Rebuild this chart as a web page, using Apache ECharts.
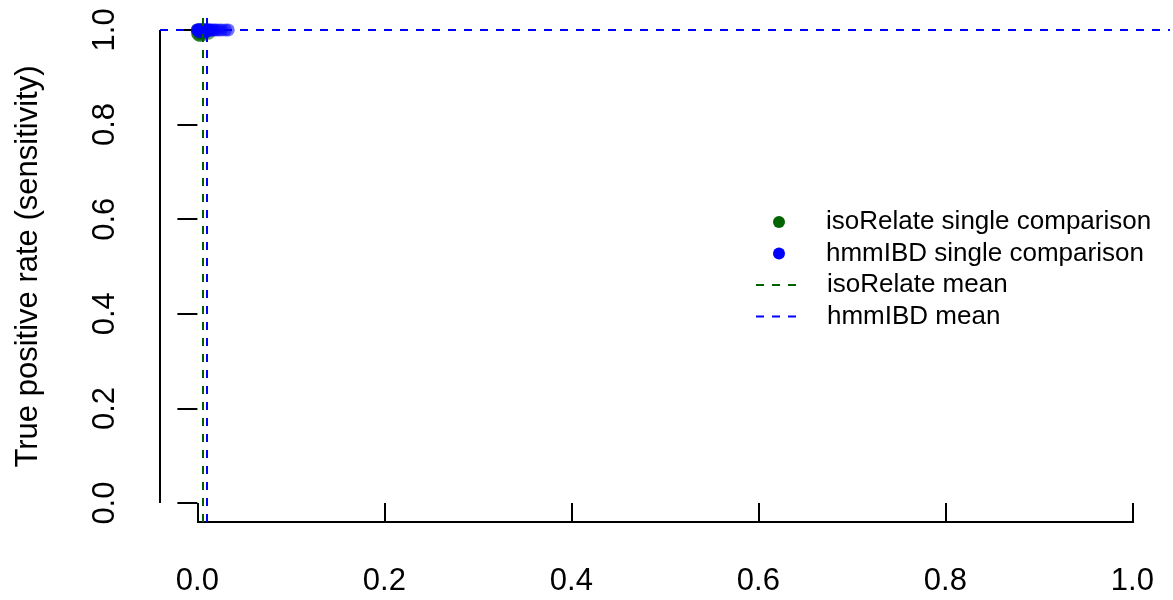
<!DOCTYPE html>
<html>
<head>
<meta charset="utf-8">
<script src="https://cdn.jsdelivr.net/npm/echarts@6/dist/echarts.min.js"></script>
<style>
html,body{margin:0;padding:0;background:#fff;}
#chart{width:1173px;height:600px;}
</style>
</head>
<body>
<div id="chart"></div>
<script>
// ---- data ----
var xTicks = [0, 0.2, 0.4, 0.6, 0.8, 1.0];
var yTicks = [0, 0.2, 0.4, 0.6, 0.8, 1.0];
var seriesNames = ['isoRelate single comparison', 'hmmIBD single comparison', 'isoRelate mean', 'hmmIBD mean'];
// isoRelate single comparisons: [false positive rate, true positive rate]
var isoPoints = [
  [0.000, 0.993], [0.000, 1.000], [0.001, 0.990], [0.002, 0.996], [0.002, 1.000],
  [0.003, 0.988], [0.004, 1.000], [0.004, 0.998], [0.005, 0.994], [0.006, 0.990],
  [0.007, 1.000], [0.008, 0.996], [0.010, 1.000], [0.012, 0.993]
];
// hmmIBD single comparisons
var hmmPoints = [
  [0.000, 1.000], [0.000, 1.000], [0.001, 1.000], [0.002, 1.000], [0.002, 0.996],
  [0.002, 1.000], [0.003, 1.000], [0.004, 1.000], [0.004, 1.000], [0.005, 1.000],
  [0.005, 0.996], [0.006, 1.000], [0.006, 1.000], [0.007, 1.000], [0.008, 1.000],
  [0.009, 1.000], [0.009, 0.996], [0.010, 1.000], [0.011, 1.000], [0.012, 1.000],
  [0.013, 1.000], [0.014, 1.000], [0.016, 1.000], [0.018, 1.000], [0.020, 1.000],
  [0.023, 1.000], [0.026, 1.000], [0.030, 1.000], [0.033, 1.000]
];
var isoMean = { fpr: 0.0053, tpr: 1.000 };
var hmmMean = { fpr: 0.0096, tpr: 1.000 };

// ---- styling ----
var FONT = 'Liberation Sans, Arial, Helvetica, sans-serif';
var GREEN = '#006400';
var BLUE = '#0000FF';
var AX_MIN = -0.04, AX_MAX = 1.04;

var chart = echarts.init(document.getElementById('chart'), null, { renderer: 'canvas' });

function meanSeries(name, color, m) {
  return {
    name: name, type: 'line', data: [], symbol: 'none', silent: true,
    lineStyle: { color: color, width: 2, type: [8, 8] },
    itemStyle: { color: color },
    markLine: {
      silent: true, symbol: ['none', 'none'], animation: false, precision: 6,
      label: { show: false },
      lineStyle: { color: color, width: 2, type: [8, 8] },
      emphasis: { disabled: true },
      data: [{ xAxis: m.fpr }, { yAxis: m.tpr }]
    }
  };
}

var option = {
  animation: false,
  backgroundColor: '#ffffff',
  grid: { left: 160, right: 3.2, top: 11, bottom: 78, containLabel: false },
  xAxis: {
    type: 'value', min: AX_MIN, max: AX_MAX,
    axisLine: { show: false },
    splitLine: { show: false },
    axisTick: { show: true, customValues: xTicks, length: 20, lineStyle: { color: '#000', width: 2 } },
    axisLabel: { show: true, customValues: xTicks, margin: 44, fontSize: 31, color: '#000', fontFamily: FONT,
      formatter: function (v) { return v.toFixed(1); } }
  },
  yAxis: {
    type: 'value', min: AX_MIN, max: AX_MAX,
    name: 'True positive rate (sensitivity)', nameLocation: 'middle', nameGap: 116,
    nameTextStyle: { fontSize: 31, color: '#000', fontFamily: FONT },
    axisLine: { show: false },
    splitLine: { show: false },
    axisTick: { show: true, customValues: yTicks, length: 20, lineStyle: { color: '#000', width: 2 } },
    axisLabel: { show: true, customValues: yTicks, margin: 39, rotate: 90, fontSize: 31, color: '#000', fontFamily: FONT,
      formatter: function (v) { return v.toFixed(1); } }
  },
  legend: [
    {
      data: [seriesNames[0], seriesNames[1]], orient: 'vertical', left: 773, top: 206.25, padding: 0,
      itemWidth: 12, itemHeight: 12, itemGap: 0, icon: 'circle', selectedMode: false,
      itemStyle: { opacity: 1 },
      textStyle: { fontSize: 26, color: '#000', fontFamily: FONT, lineHeight: 31.5,
        rich: { g: { width: 36, lineHeight: 31.5, fontSize: 26 } } },
      formatter: function (n) { return '{g| }' + n; }
    },
    {
      data: [seriesNames[2], seriesNames[3]], orient: 'vertical', left: 755, top: 269.25, padding: 0,
      itemWidth: 40, itemHeight: 12, itemGap: 0, selectedMode: false,
      itemStyle: { opacity: 0 },
      lineStyle: { width: 2 },
      textStyle: { fontSize: 26, color: '#000', fontFamily: FONT, lineHeight: 31.5,
        rich: { g: { width: 26, lineHeight: 31.5, fontSize: 26 } } },
      formatter: function (n) { return '{g| }' + n; }
    }
  ],
  series: [
    {
      name: 'x-axis line', type: 'line', silent: true, clip: false, symbol: 'none',
      data: [[xTicks[0], AX_MIN], [xTicks[xTicks.length - 1], AX_MIN]],
      lineStyle: { color: '#000', width: 2 }, z: 1
    },
    {
      name: 'y-axis line', type: 'line', silent: true, clip: false, symbol: 'none',
      data: [[AX_MIN, yTicks[0]], [AX_MIN, yTicks[yTicks.length - 1]]],
      lineStyle: { color: '#000', width: 2 }, z: 1
    },
    {
      name: seriesNames[0], type: 'scatter', data: isoPoints, symbol: 'circle', symbolSize: 13,
      itemStyle: { color: GREEN, opacity: 0.6 }, clip: false, z: 2
    },
    {
      name: seriesNames[1], type: 'scatter', data: hmmPoints, symbol: 'circle', symbolSize: 13,
      itemStyle: { color: BLUE, opacity: 0.55 }, clip: false, z: 3
    },
    meanSeries(seriesNames[2], GREEN, isoMean),
    meanSeries(seriesNames[3], BLUE, hmmMean)
  ]
};
chart.setOption(option);
</script>
</body>
</html>
